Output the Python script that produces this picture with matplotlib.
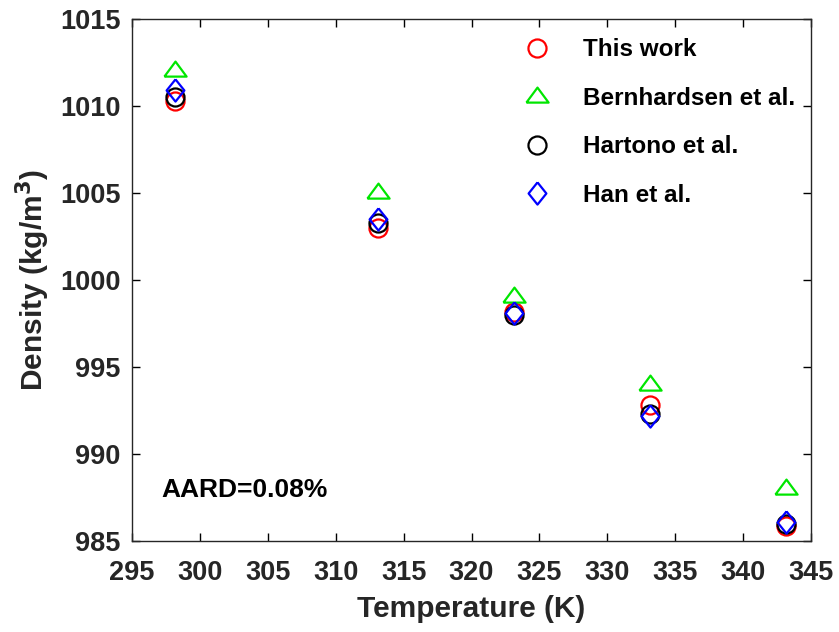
import matplotlib.pyplot as plt

plt.rcParams['font.family'] = ['Liberation Sans', 'DejaVu Sans']
plt.rcParams['font.weight'] = 'bold'

temperature = [298.15, 313.15, 323.15, 333.15, 343.15]
this_work = [1010.3, 1003.0, 998.15, 992.8, 985.85]
bernhardsen = [1012.05, 1005.05, 999.1, 994.05, 988.05]
hartono = [1010.5, 1003.3, 998.0, 992.3, 986.0]
han = [1010.9, 1003.5, 998.1, 992.2, 986.1]

# MATLAB-like marker shapes: flat triangle and tall diamond
tri = [(-1.0, -0.55), (1.0, -0.55), (0.0, 0.8), (-1.0, -0.55)]
dia = [(0.0, 1.0), (0.8, 0.0), (0.0, -1.0), (-0.8, 0.0), (0.0, 1.0)]

fig = plt.figure(figsize=(8.39, 6.32), dpi=100)
ax = fig.add_axes([0.157, 0.144, 0.810, 0.826])

mew = 1.6
ax.plot(temperature, this_work, 'o', mfc='none', mec='#ff0000', ms=13, mew=mew, label='This work')
ax.plot(temperature, bernhardsen, marker=tri, ls='none', mfc='none', mec='#00e600', ms=16, mew=mew,
        label='Bernhardsen et al.')
ax.plot(temperature, hartono, 'o', mfc='none', mec='black', ms=13, mew=mew, label='Hartono et al.')
ax.plot(temperature, han, marker=dia, ls='none', mfc='none', mec='#0000ff', ms=16, mew=mew, label='Han et al.')

ax.set_xlim(295, 345)
ax.set_ylim(985, 1015)
ax.set_xticks(range(295, 346, 5))
ax.set_yticks(range(985, 1016, 5))
ax.tick_params(direction='in', top=True, right=True, labelsize=19.5, length=6, width=1)
ax.tick_params(axis='x', pad=14)
ax.tick_params(axis='y', pad=8)
for lab in ax.get_xticklabels() + ax.get_yticklabels():
    lab.set_fontweight('bold')
    lab.set_color('#262626')
for sp in ax.spines.values():
    sp.set_linewidth(1.0)
    sp.set_color('#262626')

ax.set_xlabel('Temperature (K)', fontsize=21.5, fontweight='bold', color='#262626', labelpad=6)
ax.set_ylabel('Density (kg/m$^\\mathbf{3}$)', fontsize=21.5, fontweight='bold', color='#262626', labelpad=6)

ax.text(0.044, 0.098, 'AARD=0.08%', transform=ax.transAxes, fontsize=19, fontweight='bold', va='center')

ax.legend(loc='upper left', bbox_to_anchor=(0.55, 1.0), frameon=False, fontsize=17.5,
          handlelength=1.0, handletextpad=1.4, labelspacing=1.05, borderaxespad=0.4)

fig.savefig('out.png', dpi=100)
